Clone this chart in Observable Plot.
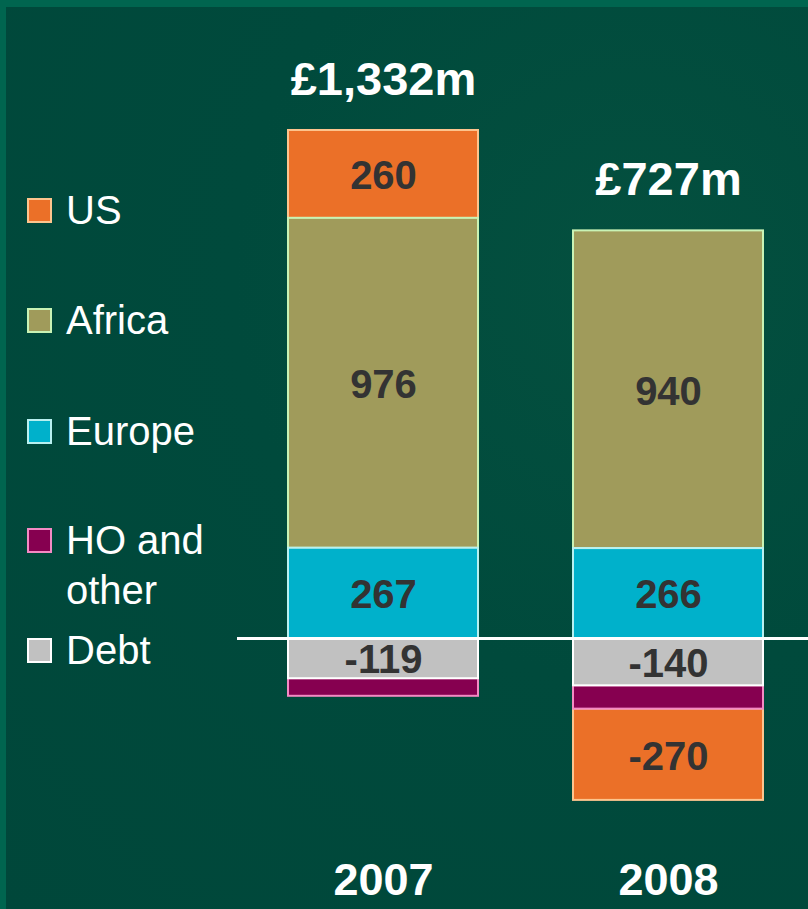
<!DOCTYPE html>
<html>
<head>
<meta charset="utf-8">
<script src="https://cdn.jsdelivr.net/npm/d3@7"></script>
<script src="https://cdn.jsdelivr.net/npm/@observablehq/plot@0.6"></script>
<style>
  html, body { margin: 0; padding: 0; }
  body { width: 808px; height: 909px; overflow: hidden; font-family: "Liberation Sans", Arial, sans-serif; }
  #wrap { position: relative; width: 808px; height: 909px; box-sizing: border-box;
    background: radial-gradient(ellipse at 78% 30%, #04503f 0%, #004a3c 45%, #00473a 100%);
    border-top: 7px solid #00654f; border-left: 6px solid #00654f; }
  #chart { position: absolute; left: -6px; top: -7px; }
  .leg { position: absolute; left: 21px; color: #fff; font-size: 40px; line-height: 50px; }
  .sw { position: absolute; left: 0; width: 21px; height: 21px; border: 2px solid; }
  .lt { position: absolute; left: 39px; white-space: nowrap; }
</style>
</head>
<body>
<div id="wrap"><div id="chart"></div><div id="legend"></div></div>
<script>
const years = ["2007", "2008"];
const regions = ["US", "Africa", "Europe", "HO and other", "Debt"];
const usValues = [260, -270];
const africaValues = [976, 940];
const europeValues = [267, 266];
const hoValues = [-52, -69];
const debtValues = [-119, -140];
const totalLabels = ["£1,332m", "£727m"];

const fills = ["#eb7028", "#a09b5b", "#00b1cb", "#860050", "#c1c1c1"];
const strokes = ["#fdc58e", "#c9f3b5", "#b8f0f0", "#f48ac4", "#ffffff"];
const seriesValues = [usValues, africaValues, europeValues, hoValues, debtValues];

const data = [];
regions.forEach((r, i) => years.forEach((y, j) => data.push({year: y, region: r, value: seriesValues[i][j]})));
const tops = years.map((y, j) => ({year: y, label: totalLabels[j],
  top: d3.sum(seriesValues, s => Math.max(0, s[j]))}));

const order = ["Europe", "Debt", "Africa", "HO and other", "US"];
const k = 0.338;
const zeroY = 638;

const plot = Plot.plot({
  width: 808, height: 909,
  marginLeft: 237, marginRight: 0, marginTop: 0, marginBottom: 64,
  style: {background: "transparent", fontFamily: "'Liberation Sans', Arial, sans-serif", overflow: "visible"},
  x: {domain: years, range: [287, 764], paddingInner: 0.332, paddingOuter: 0},
  y: {axis: null, domain: [-800, 1850], range: [zeroY + 800 * k, zeroY - 1850 * k]},
  color: {domain: regions, range: fills},
  marks: [
    Plot.barY(data, Plot.stackY({x: "year", y: "value", z: "region", order,
      fill: "region", stroke: d => strokes[regions.indexOf(d.region)], strokeWidth: 2, inset: 0})),
    Plot.text(data, Plot.stackY({x: "year", y: "value", z: "region", order,
      text: d => d.region === "HO and other" ? null : String(d.value),
      fill: "#333333", fontSize: 40, fontWeight: "bold", dy: 2})),
    Plot.ruleY([0], {stroke: "#ffffff", strokeWidth: 3}),
    Plot.text(tops, {x: "year", y: "top", text: "label", fill: "#ffffff",
      fontSize: 47, fontWeight: "bold", dy: -51}),
    Plot.axisX({tickSize: 0, tickPadding: 18, fontSize: 45, fontWeight: "bold", fill: "#ffffff", label: null})
  ]
});
plot.querySelectorAll("g[aria-label='x-axis tick label'] text, g[aria-label='x-axis tick label']").forEach(el => { el.setAttribute("fill", "#ffffff"); el.style.fontWeight = "bold"; });
document.getElementById("chart").appendChild(plot);

// Legend
const legendTops = {"US": 210, "Africa": 320, "Europe": 431, "HO and other": 540, "Debt": 650};
const leg = document.getElementById("legend");
regions.forEach((r, i) => {
  const c = legendTops[r] - 7;
  const div = document.createElement("div");
  div.className = "leg";
  div.style.top = (c - 25) + "px";
  const sw = document.createElement("div");
  sw.className = "sw";
  sw.style.background = fills[i];
  sw.style.borderColor = strokes[i];
  sw.style.top = (25 - 12.5) + "px";
  const t = document.createElement("div");
  t.className = "lt";
  t.innerHTML = r === "HO and other" ? "HO and<br>other" : r;
  div.appendChild(sw); div.appendChild(t);
  leg.appendChild(div);
});
</script>
</body>
</html>
